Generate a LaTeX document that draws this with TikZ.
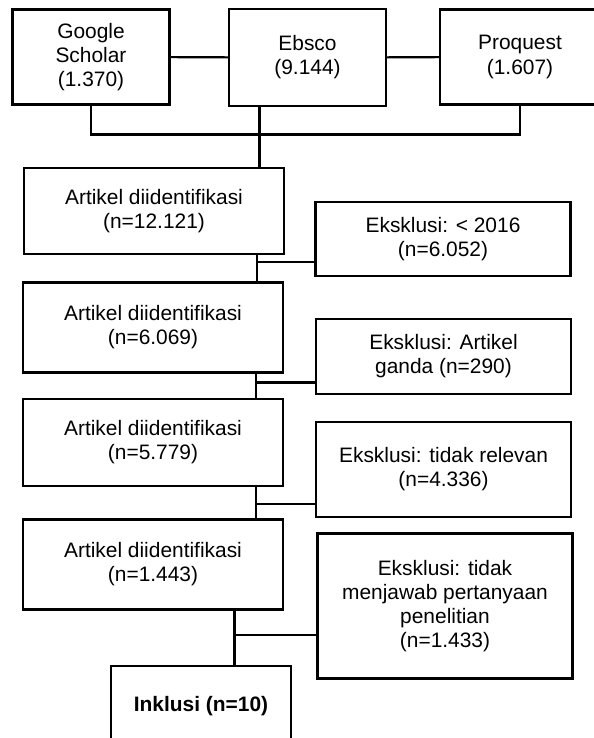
\documentclass[tikz,border=0pt]{standalone}
\usepackage{fontspec}
\setmainfont{Liberation Sans}
\usetikzlibrary{positioning,calc}

\begin{document}
\begin{tikzpicture}[
    box/.style={rectangle, draw, line width=1.2pt, align=center, font=\fontsize{11.9}{13.7}\selectfont},
    src/.style={box, minimum width=3.14cm, minimum height=1.9cm},
    artbox/.style={box, minimum width=5.2cm, minimum height=1.76cm},
    exbox/.style={box, minimum width=5.1cm},
    conn/.style={draw, line width=1.2pt},
]
    \useasboundingbox (0,0) rectangle (11.86,-14.76);

    % Sources
    \node[src] (google) at (1.82,-1.14) {Google\\Scholar\\(1.370)};
    \node[src, minimum height=1.93cm] (ebsco) at (6.15,-1.15) {Ebsco\\(9.144)};
    \node[src, minimum width=3.2cm] (proquest) at (10.4,-1.14) {Proquest\\(1.607)};

    % Screening steps
    \node[artbox, minimum height=1.71cm] (art1) at (3.08,-4.22) {Artikel diidentifikasi\\(n=12.121)};
    \node[artbox, minimum height=1.8cm] (art2) at (3.06,-6.55) {Artikel diidentifikasi\\(n=6.069)};
    \node[artbox, minimum height=1.73cm] (art3) at (3.06,-8.85) {Artikel diidentifikasi\\(n=5.779)};
    \node[artbox, minimum height=1.8cm] (art4) at (3.06,-11.29) {Artikel diidentifikasi\\(n=1.443)};

    % Exclusions
    \node[exbox, minimum height=1.49cm] (eks1) at (8.86,-4.78) {Eksklusi: < 2016\\(n=6.052)};
    \node[exbox, minimum height=1.49cm] (eks2) at (8.87,-7.13) {Eksklusi: Artikel\\ganda (n=290)};
    \node[exbox, minimum height=1.91cm] (eks3) at (8.87,-9.39) {Eksklusi: tidak relevan\\(n=4.336)};
    \node[exbox, minimum height=2.9cm] (eks4) at (8.90,-12.12) {Eksklusi: tidak\\menjawab pertanyaan\\penelitian\\(n=1.433)};

    % Inclusion
    \node[box, minimum width=3.6cm, minimum height=1.63cm, font=\fontsize{11.9}{13.7}\selectfont\bfseries] (inklusi) at (4.02,-14.13) {Inklusi (n=10)};

    % Junctions
    \coordinate (j0) at (5.19,-2.69);
    \coordinate (b1) at (5.14,-5.24);
    \coordinate (b2) at (5.12,-7.65);
    \coordinate (b3) at (5.12,-10.08);
    \coordinate (b4) at (4.69,-12.7);

    % Lines
    \path[conn] (google) -- (ebsco);
    \path[conn] (ebsco) -- (proquest);
    \path[conn] (google.south) |- (j0) -| (proquest.south);
    \path[conn] (ebsco.south -| j0) -- (art1.north -| j0);
    \path[conn] (art1.south -| b1) -- (art2.north -| b1);
    \path[conn] (b1) -- (b1 -| eks1.west);
    \path[conn] (art2.south -| b2) -- (art3.north -| b2);
    \path[conn] (b2) -- (b2 -| eks2.west);
    \path[conn] (art3.south -| b3) -- (art4.north -| b3);
    \path[conn] (b3) -- (b3 -| eks3.west);
    \path[conn] (art4.south -| b4) -- (inklusi.north -| b4);
    \path[conn] (b4) -- (b4 -| eks4.west);
\end{tikzpicture}
\end{document}
